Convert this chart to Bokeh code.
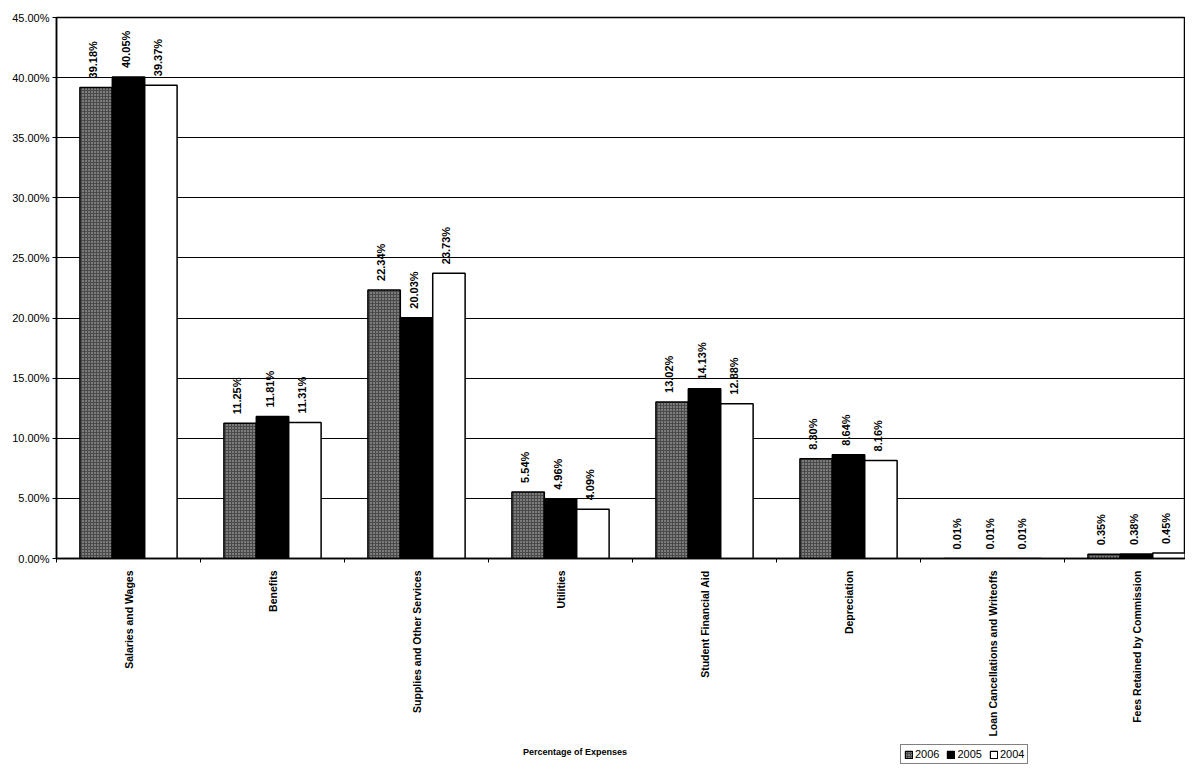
import math
from bokeh.plotting import figure
from bokeh.layouts import column
from bokeh.models import (ColumnDataSource, FixedTicker, LinearAxis, Range1d, Legend,
                          LegendItem, Label, PrintfTickFormatter)
from bokeh.core.properties import value
from bokeh.transform import dodge
from bokeh.embed import file_html
from bokeh.resources import INLINE

categories = ["Salaries and Wages", "Benefits", "Supplies and Other Services", "Utilities",
              "Student Financial Aid", "Depreciation", "Loan Cancellations and Writeoffs",
              "Fees Retained by Commission"]
years = ["2006", "2005", "2004"]
v2006 = [39.18, 11.25, 22.34, 5.54, 13.02, 8.30, 0.01, 0.35]
v2005 = [40.05, 11.81, 20.03, 4.96, 14.13, 8.64, 0.01, 0.38]
v2004 = [39.37, 11.31, 23.73, 4.09, 12.88, 8.16, 0.01, 0.45]
y_ticks = [0, 5, 10, 15, 20, 25, 30, 35, 40, 45]
x_title = "Percentage of Expenses"

FONT = "Liberation Sans"

centers = [i + 0.5 for i in range(len(categories))]
src = ColumnDataSource(dict(
    x=centers,
    v2006=v2006, v2005=v2005, v2004=v2004,
    l2006=[f"{v:.2f}%" for v in v2006],
    l2005=[f"{v:.2f}%" for v in v2005],
    l2004=[f"{v:.2f}%" for v in v2004],
))

XR = (0, 7.84)

p = figure(width=1185, height=740, x_range=Range1d(*XR), y_range=Range1d(0, 45),
           output_backend="svg", toolbar_location=None,
           min_border_left=56, min_border_top=17, min_border_right=0, min_border_bottom=182)
p.background_fill_color = "white"
p.border_fill_color = "white"
p.outline_line_color = "black"
p.outline_line_width = 1.5

# boundary ticks axis (below)
p.xaxis.ticker = FixedTicker(ticks=list(range(len(categories) + 1)))
p.xaxis.major_label_overrides = {i: "" for i in range(len(categories) + 1)}
p.xaxis.major_label_text_font_size = "1px"
p.xaxis.major_label_standoff = 0
p.xaxis.axis_line_color = "black"
p.xaxis.axis_line_width = 1.5
p.xaxis.major_tick_line_color = "black"
p.xaxis.major_tick_out = 4
p.xaxis.major_tick_in = 0
p.xaxis.minor_tick_line_color = None

# category label axis
lab_axis = LinearAxis(ticker=FixedTicker(ticks=centers),
                      major_label_overrides={c: n for c, n in zip(centers, categories)})
lab_axis.major_label_orientation = math.pi / 2
lab_axis.major_label_text_font = FONT
lab_axis.major_label_text_font_style = "bold"
lab_axis.major_label_text_font_size = "10.5px"
lab_axis.major_label_text_color = "black"
lab_axis.major_label_standoff = 2
lab_axis.axis_line_color = None
lab_axis.major_tick_line_color = None
lab_axis.minor_tick_line_color = None
p.add_layout(lab_axis, "below")

# y axis
p.yaxis.ticker = FixedTicker(ticks=y_ticks)
p.yaxis.formatter = PrintfTickFormatter(format="%.2f%%")
p.yaxis.major_label_text_font = FONT
p.yaxis.major_label_text_font_size = "11px"
p.yaxis.major_label_text_color = "black"
p.yaxis.axis_line_color = "black"
p.yaxis.axis_line_width = 1.5
p.yaxis.major_tick_line_color = "black"
p.yaxis.major_tick_out = 4
p.yaxis.major_tick_in = 0
p.yaxis.minor_tick_line_color = None
p.yaxis.major_label_standoff = 3

p.xgrid.grid_line_color = None
p.ygrid.grid_line_color = "black"
p.ygrid.grid_line_width = 1.2

W = 0.225
offs = [-W, 0.0, W]
styles = [
    dict(fill_color="#4a4a4a", hatch_pattern="dot", hatch_color="#c8c8c8", hatch_scale=3, hatch_weight=1),
    dict(fill_color="black"),
    dict(fill_color="white"),
]
for yr, off, st in zip(years, offs, styles):
    p.vbar(x=dodge("x", off, range=p.x_range), top="v" + yr, width=W, bottom=0,
           source=src, line_color="black", line_width=1.5, **st)
    p.text(x=dodge("x", off - 0.02, range=p.x_range), y="v" + yr, text="l" + yr, source=src,
           angle=math.pi / 2, text_align="left", text_baseline="middle", y_offset=-9,
           text_font=value(FONT), text_font_style="bold", text_font_size="11px",
           text_color="black")

# footer strip: axis title and legend (its bars lie far outside the strip's view)
f = figure(width=1185, height=25, x_range=Range1d(*XR), y_range=Range1d(500, 501),
           output_backend="svg", toolbar_location=None, x_axis_type=None, y_axis_type=None,
           min_border_left=56, min_border_top=0, min_border_right=0, min_border_bottom=0)
f.outline_line_color = None
f.xgrid.grid_line_color = None
f.ygrid.grid_line_color = None
f.background_fill_color = "white"
f.border_fill_color = "white"

lrends = []
for yr, off, st in zip(years, offs, styles):
    r = f.vbar(x=dodge("x", off, range=f.x_range), top="v" + yr, width=W, bottom=0,
               source=src, line_color="black", line_width=1.2, **st)
    lrends.append(r)

legend = Legend(items=[LegendItem(label=yr, renderers=[r]) for yr, r in zip(years, lrends)],
                location=(844, 1), orientation="horizontal")
legend.label_text_font = FONT
legend.label_text_font_size = "11px"
legend.label_text_color = "black"
legend.label_standoff = 2
legend.glyph_width = 9
legend.glyph_height = 9
legend.spacing = 7
legend.padding = 3
legend.margin = 0
legend.border_line_color = "black"
legend.border_line_width = 1.2
legend.label_height = 10
legend.background_fill_color = "white"
f.add_layout(legend, "center")

title = Label(x=3.6, y=14, x_units="data", y_units="screen", text=x_title,
              text_font=FONT, text_font_style="bold", text_font_size="9px",
              text_align="center", text_baseline="middle", text_color="black")
f.add_layout(title)

layout = column(p, f, spacing=0)
open("out.html", "w").write(file_html(layout, INLINE))
